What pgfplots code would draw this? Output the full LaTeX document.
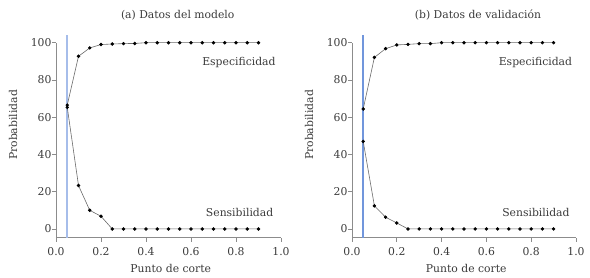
\documentclass[border=0pt]{standalone}
\usepackage{fontspec}
\setmainfont{DejaVu Serif}
\usepackage{pgfplots}
\pgfplotsset{compat=1.18}
\definecolor{txt}{HTML}{3A3A3A}
\definecolor{axc}{HTML}{8C8C8C}
\definecolor{lnc}{HTML}{6A6A6A}
\definecolor{blueA}{HTML}{A6BDEA}
\definecolor{blueB}{HTML}{7196DC}
\pgfplotsset{
  myax/.style={
    scale only axis, width=225pt, height=195pt,
    anchor=south west,
    xmin=0, xmax=1, ymin=-4.7, ymax=100,
    axis x line=bottom, axis y line=left,
    axis line style={-, axc, line width=0.7pt},
    tick style={axc, line width=0.7pt},
    tick align=outside, major tick length=4pt,
    xtick={0,0.2,0.4,0.6,0.8,1.0},
    ytick={0,20,40,60,80,100},
    /pgf/number format/assume math mode=true,
    tick label style={font=\fontsize{10.8}{13}\selectfont, text=txt},
    xticklabel style={yshift=-2pt, /pgf/number format/.cd, fixed, fixed zerofill, precision=1},
    yticklabel style={xshift=3pt},
    label style={font=\fontsize{10.8}{13}\selectfont, text=txt},
    title style={font=\fontsize{10.8}{13}\selectfont, text=txt},
    xlabel={Punto de corte},
    ylabel={Probabilidad},
    xlabel style={at={(axis description cs:0.51,-0.16)}, anchor=center},
    ylabel style={at={(axis description cs:-0.191,0.578)}, anchor=center},
    clip=false,
  },
  dat/.style={color=lnc, line width=0.6pt, mark=*, mark size=1.4pt,
      mark options={fill=black, draw=black, solid}},
}
\begin{document}
\begin{tikzpicture}
\path[use as bounding box] (0,0) rectangle (590pt,278pt);
\begin{axis}[myax, at={(56pt,40.3pt)},
  title={(a) Datos del modelo},
  title style={at={(axis description cs:0.541,1.11)}, anchor=center}]
\addplot[blueA, line width=1.6pt, mark=none, forget plot] table {
x y
0.05 -4.7
0.05 104
};
\addplot[dat] coordinates {
(0.05,66.5) (0.10,92.7) (0.15,97.2) (0.20,99.0) (0.25,99.3) (0.30,99.5)
(0.35,99.6) (0.40,100) (0.45,100) (0.50,100) (0.55,100) (0.60,100)
(0.65,100) (0.70,100) (0.75,100) (0.80,100) (0.85,100) (0.90,100)};
\addplot[dat] coordinates {
(0.05,65.3) (0.10,23.3) (0.15,10.0) (0.20,6.8) (0.25,0) (0.30,0)
(0.35,0) (0.40,0) (0.45,0) (0.50,0) (0.55,0) (0.60,0)
(0.65,0) (0.70,0) (0.75,0) (0.80,0) (0.85,0) (0.90,0)};
\node[font=\fontsize{10.8}{13}\selectfont, text=txt] at (axis cs:0.813,89.1) {Especificidad};
\node[font=\fontsize{10.8}{13}\selectfont, text=txt] at (axis cs:0.816,8.6) {Sensibilidad};
\end{axis}
\begin{axis}[myax, at={(352pt,40.3pt)}, width=224pt,
  title={(b) Datos de validación},
  title style={at={(axis description cs:0.5625,1.11)}, anchor=center}]
\addplot[blueB, line width=1.6pt, mark=none, forget plot] table {
x y
0.05 -4.7
0.05 104
};
\addplot[dat] coordinates {
(0.05,64.4) (0.10,92.1) (0.15,96.8) (0.20,98.8) (0.25,99.1) (0.30,99.5)
(0.35,99.5) (0.40,100) (0.45,100) (0.50,100) (0.55,100) (0.60,100)
(0.65,100) (0.70,100) (0.75,100) (0.80,100) (0.85,100) (0.90,100)};
\addplot[dat] coordinates {
(0.05,47.0) (0.10,12.4) (0.15,6.3) (0.20,3.2) (0.25,0) (0.30,0)
(0.35,0) (0.40,0) (0.45,0) (0.50,0) (0.55,0) (0.60,0)
(0.65,0) (0.70,0) (0.75,0) (0.80,0) (0.85,0) (0.90,0)};
\node[font=\fontsize{10.8}{13}\selectfont, text=txt] at (axis cs:0.819,89.1) {Especificidad};
\node[font=\fontsize{10.8}{13}\selectfont, text=txt] at (axis cs:0.821,9.0) {Sensibilidad};
\end{axis}
\end{tikzpicture}
\end{document}
